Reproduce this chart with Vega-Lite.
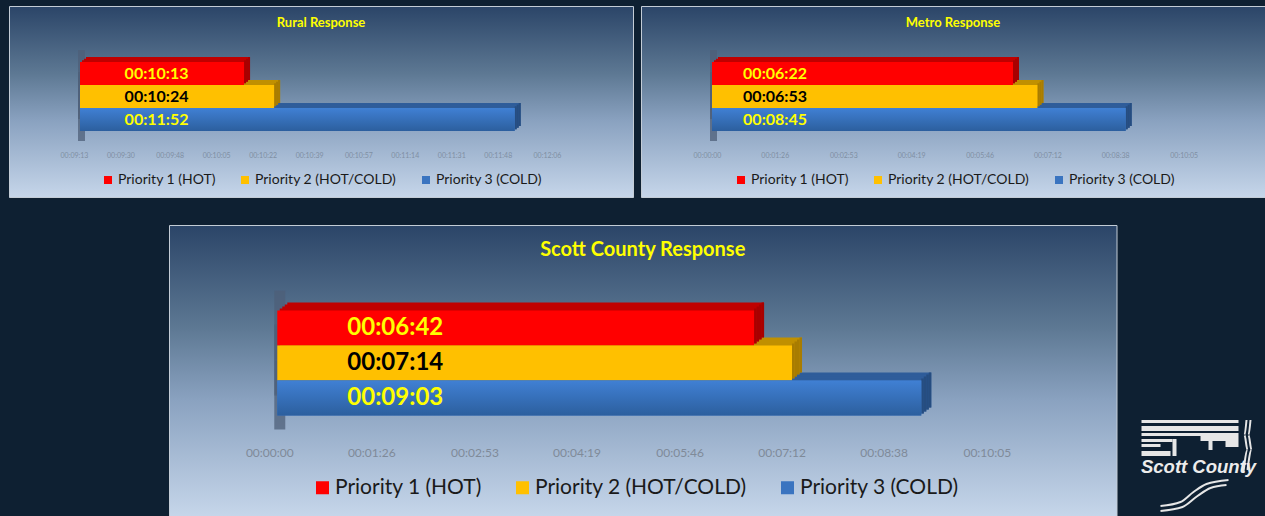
{"$schema":"https://vega.github.io/schema/vega-lite/v6.json","background":"#0e2032","padding":{"left":8,"top":5,"right":0,"bottom":0},"autosize":{"type":"pad"},"spacing":26,"resolve":{"scale":{"color":"independent"},"legend":{"color":"independent"}},
"datasets":{"bars":[
{"panel":"Rural","rank":1,"priority":"Priority 1 (HOT)","start":553,"seconds":613,"labelAt":581,"time":"00:10:13"},
{"panel":"Rural","rank":2,"priority":"Priority 2 (HOT/COLD)","start":553,"seconds":624,"labelAt":581,"time":"00:10:24"},
{"panel":"Rural","rank":3,"priority":"Priority 3 (COLD)","start":553,"seconds":712,"labelAt":581,"time":"00:11:52"},
{"panel":"Metro","rank":1,"priority":"Priority 1 (HOT)","start":0,"seconds":382,"labelAt":80,"time":"00:06:22"},
{"panel":"Metro","rank":2,"priority":"Priority 2 (HOT/COLD)","start":0,"seconds":413,"labelAt":80,"time":"00:06:53"},
{"panel":"Metro","rank":3,"priority":"Priority 3 (COLD)","start":0,"seconds":525,"labelAt":80,"time":"00:08:45"},
{"panel":"County","rank":1,"priority":"Priority 1 (HOT)","start":0,"seconds":402,"labelAt":99.5,"time":"00:06:42"},
{"panel":"County","rank":2,"priority":"Priority 2 (HOT/COLD)","start":0,"seconds":434,"labelAt":99.5,"time":"00:07:14"},
{"panel":"County","rank":3,"priority":"Priority 3 (COLD)","start":0,"seconds":543,"labelAt":99.5,"time":"00:09:03"}]},
"vconcat":[
{"spacing":8,"bounds":"flush","resolve":{"scale":{"color":"independent"},"legend":{"color":"independent"}},"hconcat":[
{"width":624,"height":191,"data":{"name":"bars"},"transform":[{"filter":"datum.panel=='Rural'"}],
"title":{"text":"Rural Response","color":"#ffff00","fontSize":13,"font":"Lato","fontWeight":"bold","anchor":"middle","offset":-24},
"view":{"stroke":"#c3ccd6","strokeWidth":1,"fill":{"gradient":"linear","x1":0,"y1":0,"x2":0,"y2":1,"stops":[{"offset":0,"color":"#2b4568"},{"offset":0.35,"color":"#5d7893"},{"offset":0.6,"color":"#8aa2c0"},{"offset":1,"color":"#c6d6ea"}]}},
"encoding":{"y":{"field":"priority","type":"nominal","axis":null,"sort":null,"scale":{"domain":["Priority 1 (HOT)","Priority 2 (HOT/COLD)","Priority 3 (COLD)"],"range":[56,125],"paddingInner":0,"paddingOuter":0}},
"x":{"field":"seconds","type":"quantitative","scale":{"domain":[527.03,755.27],"nice":false,"zero":false},"axis":{"title":null,"values":[553,570,588,605,622,639,657,674,691,708,726],"labelExpr":"utcFormat(datum.value*1000,'%H:%M:%S')","domain":false,"ticks":false,"grid":false,"offset":-46,"labelPadding":0,"labelOffset":-6,"labelFontSize":7,"labelColor":"#7f8fa3","labelFont":"Lato","labelOverlap":false,"labelBound":false,"labelFlush":false}}},
"layer":[
{"mark":{"type":"bar","color":"#4d5f78","opacity":0.75,"xOffset":-2,"x2Offset":5,"yOffset":-12},"encoding":{"x":{"field":"start","type":"quantitative"},"x2":{"field":"start"}}},
{"mark":{"type":"bar","color":"#4d5f78","opacity":0.75,"xOffset":-2,"x2Offset":5,"yOffset":10},"encoding":{"x":{"field":"start","type":"quantitative"},"x2":{"field":"start"}}},
{"mark":{"type":"bar","xOffset":6,"x2Offset":6,"yOffset":-5},"encoding":{"x2":{"field":"start"},"color":{"condition":[{"test":"datum.rank==1","value":"#c00000"},{"test":"datum.rank==2","value":"#c09000"}],"value":"#2f5d9a"}}},
{"mark":{"type":"bar","xOffset":4,"x2Offset":4,"yOffset":-3.3},"encoding":{"x2":{"field":"start"},"color":{"condition":[{"test":"datum.rank==1","value":"#c00000"},{"test":"datum.rank==2","value":"#c09000"}],"value":"#2f5d9a"}}},
{"mark":{"type":"bar","xOffset":2,"x2Offset":2,"yOffset":-1.7},"encoding":{"x2":{"field":"start"},"color":{"condition":[{"test":"datum.rank==1","value":"#c00000"},{"test":"datum.rank==2","value":"#c09000"}],"value":"#2f5d9a"}}},
{"mark":{"type":"bar","xOffset":4,"x2Offset":6,"yOffset":-5},"encoding":{"x2":{"field":"seconds"},"color":{"condition":[{"test":"datum.rank==1","value":"#a80000"},{"test":"datum.rank==2","value":"#a87c00"}],"value":"#264d80"}}},
{"mark":{"type":"bar","xOffset":2,"x2Offset":4,"yOffset":-3.3},"encoding":{"x2":{"field":"seconds"},"color":{"condition":[{"test":"datum.rank==1","value":"#a80000"},{"test":"datum.rank==2","value":"#a87c00"}],"value":"#264d80"}}},
{"mark":{"type":"bar","xOffset":0,"x2Offset":2,"yOffset":-1.7},"encoding":{"x2":{"field":"seconds"},"color":{"condition":[{"test":"datum.rank==1","value":"#a80000"},{"test":"datum.rank==2","value":"#a87c00"}],"value":"#264d80"}}},
{"mark":{"type":"bar"},"encoding":{"x2":{"field":"start"},"color":{"field":"priority","type":"nominal","sort":null,"scale":{"domain":["Priority 1 (HOT)","Priority 2 (HOT/COLD)","Priority 3 (COLD)"],"range":["#ff0000","#ffc000","#3a74c0"]},"legend":{"title":null,"orient":"none","legendX":92,"legendY":167,"direction":"horizontal","columns":3,"symbolType":"square","symbolSize":64,"symbolOpacity":1,"labelFont":"Lato","labelFontSize":14,"labelColor":"#1a1a1a","columnPadding":22,"labelOffset":3,"labelLimit":300}}}},
{"transform":[{"filter":"datum.rank==3"}],"mark":{"type":"bar","color":{"gradient":"linear","x1":0,"y1":0,"x2":0,"y2":1,"stops":[{"offset":0,"color":"#4080d4"},{"offset":1,"color":"#2c5f9e"}]}},"encoding":{"x2":{"field":"start"}}},
{"mark":{"type":"text","font":"Lato","fontWeight":"bold","fontSize":16},"encoding":{"x":{"field":"labelAt","type":"quantitative"},"text":{"field":"time"},"color":{"condition":{"test":"datum.rank==2","value":"#000000"},"value":"#ffff00"}}}
]},
{"width":624,"height":191,"data":{"name":"bars"},"transform":[{"filter":"datum.panel=='Metro'"}],
"title":{"text":"Metro Response","color":"#ffff00","fontSize":13,"font":"Lato","fontWeight":"bold","anchor":"middle","offset":-24},
"view":{"stroke":"#c3ccd6","strokeWidth":1,"fill":{"gradient":"linear","x1":0,"y1":0,"x2":0,"y2":1,"stops":[{"offset":0,"color":"#2b4568"},{"offset":0.35,"color":"#5d7893"},{"offset":0.6,"color":"#8aa2c0"},{"offset":1,"color":"#c6d6ea"}]}},
"encoding":{"y":{"field":"priority","type":"nominal","axis":null,"sort":null,"scale":{"domain":["Priority 1 (HOT)","Priority 2 (HOT/COLD)","Priority 3 (COLD)"],"range":[56,125],"paddingInner":0,"paddingOuter":0}},
"x":{"field":"seconds","type":"quantitative","scale":{"domain":[-90.1,701.8],"nice":false,"zero":false},"axis":{"title":null,"values":[0,86,173,259,346,432,518,605],"labelExpr":"utcFormat(datum.value*1000,'%H:%M:%S')","domain":false,"ticks":false,"grid":false,"offset":-46,"labelPadding":0,"labelOffset":-5,"labelFontSize":7,"labelColor":"#7f8fa3","labelFont":"Lato","labelOverlap":false,"labelBound":false,"labelFlush":false}}},
"layer":[
{"mark":{"type":"bar","color":"#4d5f78","opacity":0.75,"xOffset":-2,"x2Offset":5,"yOffset":-12},"encoding":{"x":{"field":"start","type":"quantitative"},"x2":{"field":"start"}}},
{"mark":{"type":"bar","color":"#4d5f78","opacity":0.75,"xOffset":-2,"x2Offset":5,"yOffset":10},"encoding":{"x":{"field":"start","type":"quantitative"},"x2":{"field":"start"}}},
{"mark":{"type":"bar","xOffset":6,"x2Offset":6,"yOffset":-5},"encoding":{"x2":{"field":"start"},"color":{"condition":[{"test":"datum.rank==1","value":"#c00000"},{"test":"datum.rank==2","value":"#c09000"}],"value":"#2f5d9a"}}},
{"mark":{"type":"bar","xOffset":4,"x2Offset":4,"yOffset":-3.3},"encoding":{"x2":{"field":"start"},"color":{"condition":[{"test":"datum.rank==1","value":"#c00000"},{"test":"datum.rank==2","value":"#c09000"}],"value":"#2f5d9a"}}},
{"mark":{"type":"bar","xOffset":2,"x2Offset":2,"yOffset":-1.7},"encoding":{"x2":{"field":"start"},"color":{"condition":[{"test":"datum.rank==1","value":"#c00000"},{"test":"datum.rank==2","value":"#c09000"}],"value":"#2f5d9a"}}},
{"mark":{"type":"bar","xOffset":4,"x2Offset":6,"yOffset":-5},"encoding":{"x2":{"field":"seconds"},"color":{"condition":[{"test":"datum.rank==1","value":"#a80000"},{"test":"datum.rank==2","value":"#a87c00"}],"value":"#264d80"}}},
{"mark":{"type":"bar","xOffset":2,"x2Offset":4,"yOffset":-3.3},"encoding":{"x2":{"field":"seconds"},"color":{"condition":[{"test":"datum.rank==1","value":"#a80000"},{"test":"datum.rank==2","value":"#a87c00"}],"value":"#264d80"}}},
{"mark":{"type":"bar","xOffset":0,"x2Offset":2,"yOffset":-1.7},"encoding":{"x2":{"field":"seconds"},"color":{"condition":[{"test":"datum.rank==1","value":"#a80000"},{"test":"datum.rank==2","value":"#a87c00"}],"value":"#264d80"}}},
{"mark":{"type":"bar"},"encoding":{"x2":{"field":"start"},"color":{"field":"priority","type":"nominal","sort":null,"scale":{"domain":["Priority 1 (HOT)","Priority 2 (HOT/COLD)","Priority 3 (COLD)"],"range":["#ff0000","#ffc000","#3a74c0"]},"legend":{"title":null,"orient":"none","legendX":93,"legendY":167,"direction":"horizontal","columns":3,"symbolType":"square","symbolSize":64,"symbolOpacity":1,"labelFont":"Lato","labelFontSize":14,"labelColor":"#1a1a1a","columnPadding":22,"labelOffset":3,"labelLimit":300}}}},
{"transform":[{"filter":"datum.rank==3"}],"mark":{"type":"bar","color":{"gradient":"linear","x1":0,"y1":0,"x2":0,"y2":1,"stops":[{"offset":0,"color":"#4080d4"},{"offset":1,"color":"#2c5f9e"}]}},"encoding":{"x2":{"field":"start"}}},
{"mark":{"type":"text","font":"Lato","fontWeight":"bold","fontSize":16},"encoding":{"x":{"field":"labelAt","type":"quantitative"},"text":{"field":"time"},"color":{"condition":{"test":"datum.rank==2","value":"#000000"},"value":"#ffff00"}}}
]}
]},
{"spacing":0,"bounds":"flush","resolve":{"scale":{"color":"independent"},"legend":{"color":"independent"}},"hconcat":[
{"width":160,"height":291,"data":{"values":[]},"mark":"point","view":{"stroke":null}},
{"width":947.5,"height":291,"data":{"name":"bars"},"transform":[{"filter":"datum.panel=='County'"}],
"title":{"text":"Scott County Response","color":"#ffff00","fontSize":20,"font":"Lato","fontWeight":"bold","anchor":"middle","offset":-35},
"view":{"stroke":"#c3ccd6","strokeWidth":1,"fill":{"gradient":"linear","x1":0,"y1":0,"x2":0,"y2":1,"stops":[{"offset":0,"color":"#2b4568"},{"offset":0.35,"color":"#5d7893"},{"offset":0.6,"color":"#8aa2c0"},{"offset":1,"color":"#c6d6ea"}]}},
"encoding":{"y":{"field":"priority","type":"nominal","axis":null,"sort":null,"scale":{"domain":["Priority 1 (HOT)","Priority 2 (HOT/COLD)","Priority 3 (COLD)"],"range":[85.5,190.5],"paddingInner":0,"paddingOuter":0}},
"x":{"field":"seconds","type":"quantitative","scale":{"domain":[-91.3,707.6],"nice":false,"zero":false},"axis":{"title":null,"values":[0,86,173,259,346,432,518,605],"labelExpr":"utcFormat(datum.value*1000,'%H:%M:%S')","domain":false,"ticks":false,"grid":false,"offset":-69,"labelPadding":0,"labelOffset":-8,"labelFontSize":12,"labelColor":"#7f8a99","labelFont":"Lato","labelOverlap":false,"labelBound":false,"labelFlush":false}}},
"layer":[
{"mark":{"type":"bar","color":"#4d5f78","opacity":0.75,"xOffset":-3,"x2Offset":8,"yOffset":-20},"encoding":{"x":{"field":"start","type":"quantitative"},"x2":{"field":"start"}}},
{"mark":{"type":"bar","color":"#4d5f78","opacity":0.75,"xOffset":-3,"x2Offset":8,"yOffset":14},"encoding":{"x":{"field":"start","type":"quantitative"},"x2":{"field":"start"}}},
{"mark":{"type":"bar","xOffset":10,"x2Offset":10,"yOffset":-8},"encoding":{"x2":{"field":"start"},"color":{"condition":[{"test":"datum.rank==1","value":"#c00000"},{"test":"datum.rank==2","value":"#c09000"}],"value":"#2f5d9a"}}},
{"mark":{"type":"bar","xOffset":7.5,"x2Offset":7.5,"yOffset":-6},"encoding":{"x2":{"field":"start"},"color":{"condition":[{"test":"datum.rank==1","value":"#c00000"},{"test":"datum.rank==2","value":"#c09000"}],"value":"#2f5d9a"}}},
{"mark":{"type":"bar","xOffset":5,"x2Offset":5,"yOffset":-4},"encoding":{"x2":{"field":"start"},"color":{"condition":[{"test":"datum.rank==1","value":"#c00000"},{"test":"datum.rank==2","value":"#c09000"}],"value":"#2f5d9a"}}},
{"mark":{"type":"bar","xOffset":2.5,"x2Offset":2.5,"yOffset":-2},"encoding":{"x2":{"field":"start"},"color":{"condition":[{"test":"datum.rank==1","value":"#c00000"},{"test":"datum.rank==2","value":"#c09000"}],"value":"#2f5d9a"}}},
{"mark":{"type":"bar","xOffset":7.5,"x2Offset":10,"yOffset":-8},"encoding":{"x2":{"field":"seconds"},"color":{"condition":[{"test":"datum.rank==1","value":"#a80000"},{"test":"datum.rank==2","value":"#a87c00"}],"value":"#264d80"}}},
{"mark":{"type":"bar","xOffset":5,"x2Offset":7.5,"yOffset":-6},"encoding":{"x2":{"field":"seconds"},"color":{"condition":[{"test":"datum.rank==1","value":"#a80000"},{"test":"datum.rank==2","value":"#a87c00"}],"value":"#264d80"}}},
{"mark":{"type":"bar","xOffset":2.5,"x2Offset":5,"yOffset":-4},"encoding":{"x2":{"field":"seconds"},"color":{"condition":[{"test":"datum.rank==1","value":"#a80000"},{"test":"datum.rank==2","value":"#a87c00"}],"value":"#264d80"}}},
{"mark":{"type":"bar","xOffset":0,"x2Offset":2.5,"yOffset":-2},"encoding":{"x2":{"field":"seconds"},"color":{"condition":[{"test":"datum.rank==1","value":"#a80000"},{"test":"datum.rank==2","value":"#a87c00"}],"value":"#264d80"}}},
{"mark":{"type":"bar"},"encoding":{"x2":{"field":"start"},"color":{"field":"priority","type":"nominal","sort":null,"scale":{"domain":["Priority 1 (HOT)","Priority 2 (HOT/COLD)","Priority 3 (COLD)"],"range":["#ff0000","#ffc000","#3a74c0"]},"legend":{"title":null,"orient":"none","legendX":143,"legendY":252,"direction":"horizontal","columns":3,"symbolType":"square","symbolSize":169,"symbolOpacity":1,"labelFont":"Lato","labelFontSize":21,"labelColor":"#1a1a1a","columnPadding":30,"labelOffset":2,"labelLimit":400}}}},
{"transform":[{"filter":"datum.rank==3"}],"mark":{"type":"bar","color":{"gradient":"linear","x1":0,"y1":0,"x2":0,"y2":1,"stops":[{"offset":0,"color":"#4080d4"},{"offset":1,"color":"#2c5f9e"}]}},"encoding":{"x2":{"field":"start"}}},
{"mark":{"type":"text","font":"Lato","fontWeight":"bold","fontSize":24},"encoding":{"x":{"field":"labelAt","type":"quantitative"},"text":{"field":"time"},"color":{"condition":{"test":"datum.rank==2","value":"#000000"},"value":"#ffff00"}}}
]},
{"width":148.5,"height":291,"view":{"stroke":null},
"layer":[
{"data":{"values":[{"a":1141,"b":1238,"c":420,"d":423},{"a":1141,"b":1238,"c":426,"d":431},{"a":1141,"b":1238,"c":433,"d":436},{"a":1141,"b":1172,"c":439,"d":442},{"a":1141,"b":1160,"c":444,"d":447},{"a":1141,"b":1170,"c":451,"d":456},{"a":1200,"b":1238,"c":436,"d":441},{"a":1208,"b":1212,"c":441,"d":450},{"a":1225,"b":1238,"c":441,"d":447},{"a":1172,"b":1176,"c":439,"d":456}]},
"mark":{"type":"rect","color":"#e6e6e6"},"encoding":{"x":{"field":"a","type":"quantitative","axis":null,"scale":{"domain":[1116.5,1265],"nice":false,"zero":false}},"x2":{"field":"b"},"y":{"field":"c","type":"quantitative","axis":null,"scale":{"domain":[225,516],"reverse":true,"nice":false,"zero":false}},"y2":{"field":"d"}}},
{"data":{"values":[{"id":"a","px":1160,"py":506},{"id":"a","px":1180,"py":502},{"id":"a","px":1193,"py":492},{"id":"a","px":1206,"py":484},{"id":"a","px":1228,"py":480},{"id":"b","px":1160,"py":511},{"id":"b","px":1182,"py":507},{"id":"b","px":1197,"py":496},{"id":"b","px":1210,"py":488},{"id":"b","px":1226,"py":485},{"id":"c","px":1246,"py":420},{"id":"c","px":1244,"py":435},{"id":"c","px":1247,"py":450},{"id":"c","px":1243,"py":472},{"id":"d","px":1250,"py":420},{"id":"d","px":1248,"py":435},{"id":"d","px":1251,"py":450},{"id":"d","px":1247,"py":470}]},
"mark":{"type":"line","color":"#e6e6e6","strokeWidth":2,"interpolate":"monotone"},"encoding":{"x":{"field":"px","type":"quantitative","axis":null},"y":{"field":"py","type":"quantitative","axis":null},"detail":{"field":"id"},"order":{"field":"py"}}},
{"data":{"values":[{"px":1198,"py":467,"name":"Scott County"}]},"mark":{"type":"text","font":"Liberation Sans","fontWeight":"bold","fontStyle":"italic","fontSize":18.5,"color":"#ececec"},"encoding":{"x":{"field":"px","type":"quantitative","axis":null},"y":{"field":"py","type":"quantitative","axis":null},"text":{"field":"name"}}}
]}
]}
]}
